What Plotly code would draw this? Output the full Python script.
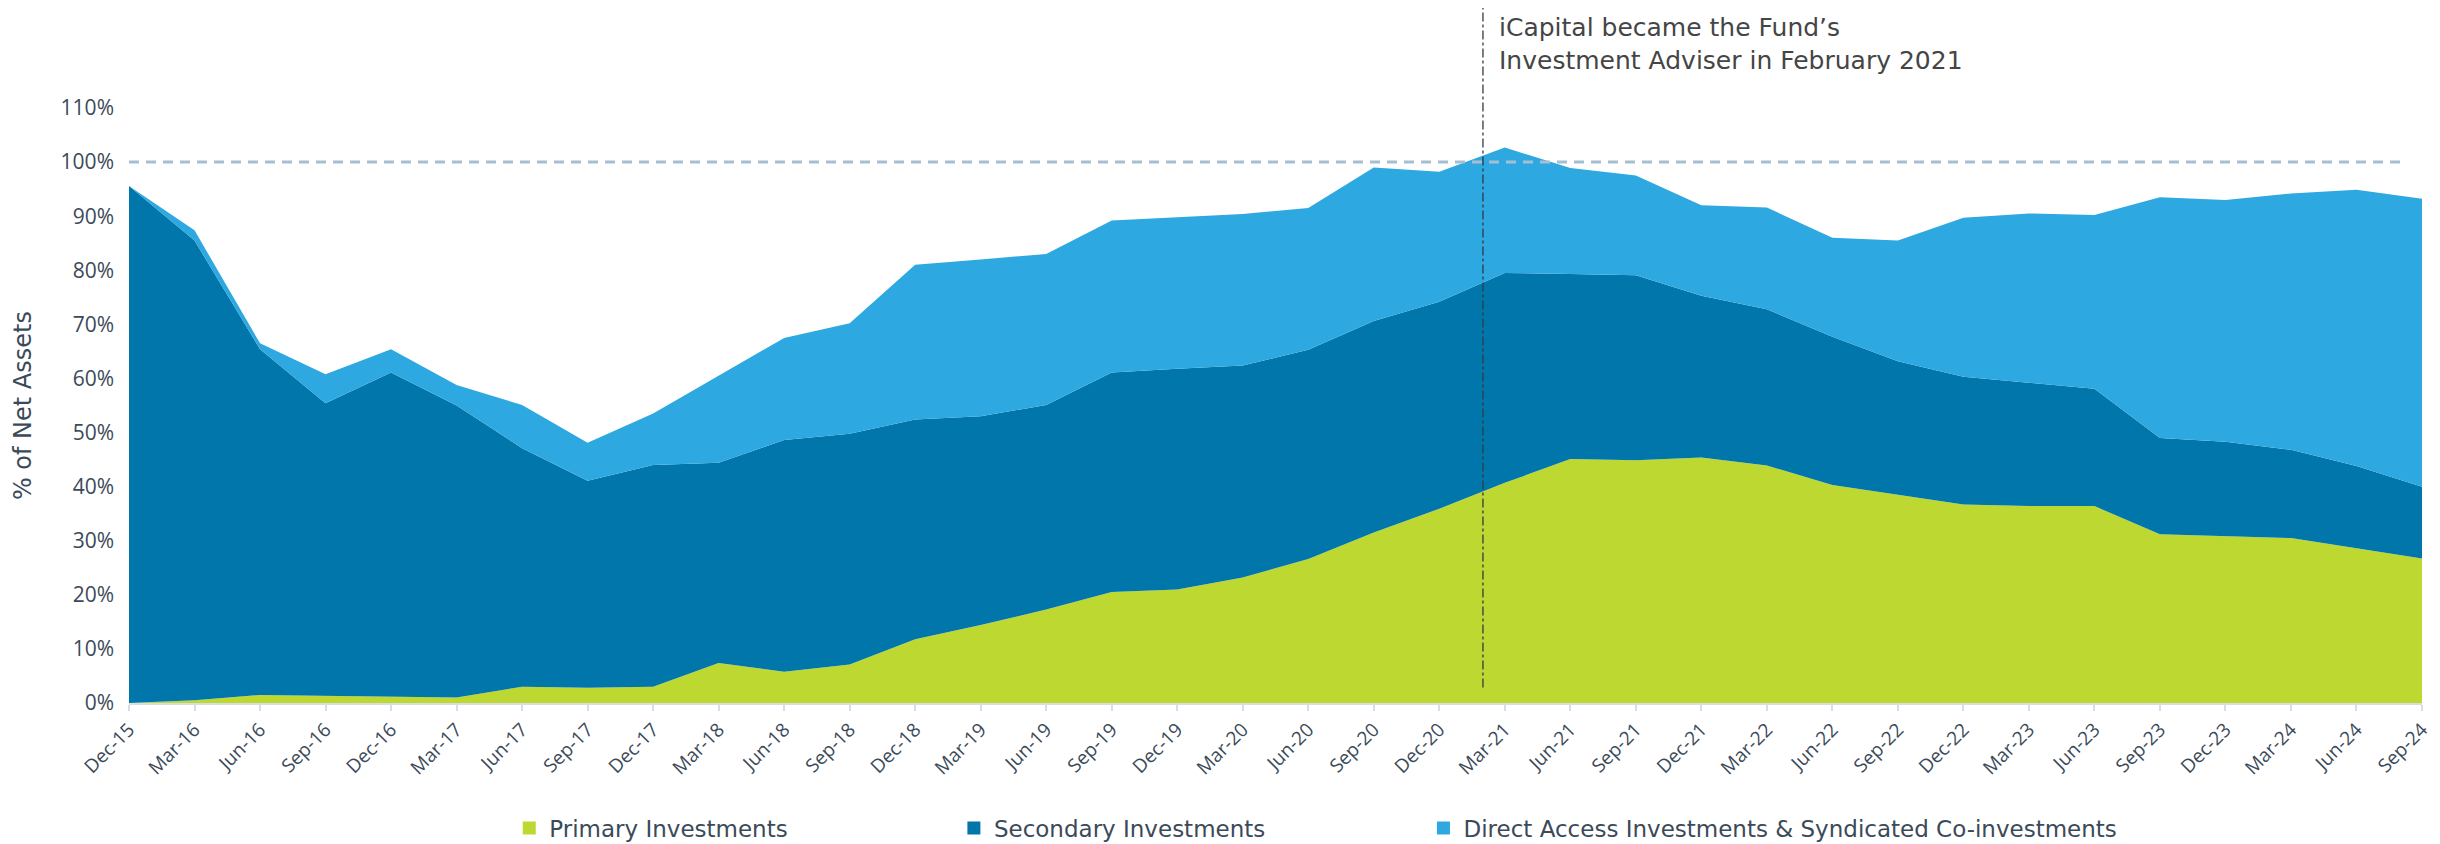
import plotly.graph_objects as go

quarters = ["Dec-15", "Mar-16", "Jun-16", "Sep-16", "Dec-16", "Mar-17", "Jun-17", "Sep-17",
            "Dec-17", "Mar-18", "Jun-18", "Sep-18", "Dec-18", "Mar-19", "Jun-19", "Sep-19",
            "Dec-19", "Mar-20", "Jun-20", "Sep-20", "Dec-20", "Mar-21", "Jun-21", "Sep-21",
            "Dec-21", "Mar-22", "Jun-22", "Sep-22", "Dec-22", "Mar-23", "Jun-23", "Sep-23",
            "Dec-23", "Mar-24", "Jun-24", "Sep-24"]

primary = [0.0, 0.5, 1.5, 1.3, 1.1, 1.0, 3.0, 2.8, 3.0, 7.4, 5.8, 7.1, 11.8, 14.4, 17.3, 20.5,
           21.0, 23.2, 26.6, 31.5, 35.9, 40.7, 45.1, 44.9, 45.4, 43.9, 40.3, 38.5, 36.7, 36.4,
           36.4, 31.2, 30.8, 30.5, 28.6, 26.7]
secondary = [95.6, 85.0, 63.9, 54.1, 60.0, 54.0, 44.1, 38.3, 41.0, 37.0, 42.8, 42.7, 40.6, 38.6,
             37.8, 40.6, 40.8, 39.2, 38.7, 39.1, 38.3, 38.8, 34.2, 34.2, 29.9, 28.9, 27.4, 24.7,
             23.6, 22.8, 21.7, 17.8, 17.5, 16.3, 15.2, 13.3]
direct = [0.0, 1.9, 1.1, 5.4, 4.3, 3.8, 8.0, 7.0, 9.5, 16.1, 18.9, 20.4, 28.6, 29.0, 27.9, 28.1,
          28.0, 28.0, 26.2, 28.4, 24.0, 23.2, 19.6, 18.4, 16.7, 18.8, 18.3, 22.3, 29.4, 31.3,
          32.1, 44.5, 44.7, 47.4, 51.1, 53.2]

series_names = ["Primary Investments", "Secondary Investments",
                "Direct Access Investments & Syndicated Co-investments"]
series_colors = ["#BED832", "#0176AA", "#2EA8E0"]
y_ticks = list(range(0, 111, 10))
y_tick_labels = [f"{v}%" for v in y_ticks]
reference_level = 100
adviser_note = "iCapital became the Fund\u2019s<br>Investment Adviser in February 2021"
adviser_pos = quarters.index("Dec-20") + 2 / 3  # February 2021

FONT = "DejaVu Sans"
TICKFONT = "Open Sans"
TXT = "#3B4A59"

fig = go.Figure()
for name, vals, col in zip(series_names, [primary, secondary, direct], series_colors):
    fig.add_trace(go.Scatter(
        x=quarters, y=vals, name=name, mode="lines", stackgroup="one",
        line=dict(width=0, color=col), fillcolor=col, showlegend=False,
        hovertemplate="%{x}: %{y:.1f}%<extra>" + name + "</extra>"))

legend_ids = ["legend", "legend2", "legend3"]
for name, col, lid in zip(series_names, series_colors, legend_ids):
    fig.add_trace(go.Scatter(
        x=[None], y=[None], mode="markers", name=name, legend=lid,
        marker=dict(symbol="square", size=13, color=col), showlegend=True))

# 100% reference line
fig.add_shape(type="line", xref="paper", yref="y", x0=0, x1=0.993,
              y0=reference_level, y1=reference_level, layer="above",
              line=dict(color="#A6BED2", width=3, dash="10px,7px"))
# adviser change line
fig.add_shape(type="line", xref="x", yref="paper", x0=adviser_pos, x1=adviser_pos,
              y0=0.026, y1=1.17, layer="above",
              line=dict(color="#2F3B45", width=1.3, dash="dashdot"))

fig.add_annotation(x=adviser_pos, y=1.163, xref="x", yref="paper", xanchor="left",
                   yanchor="top", xshift=14, showarrow=False, align="left",
                   text=adviser_note, font=dict(family=FONT, size=25, color="#454545"))

fig.add_annotation(x=-0.0464, y=0.5, xref="paper", yref="paper", textangle=-90,
                   xanchor="center", yanchor="middle",
                   showarrow=False, text="% of Net Assets",
                   font=dict(family=FONT, size=24, color=TXT))

legend_common = dict(orientation="h", yanchor="middle", y=-0.21, xanchor="left",
                     font=dict(family=FONT, size=23, color=TXT), bgcolor="rgba(0,0,0,0)",
                     itemwidth=30)

# page body has an 8px margin: figure sits at (8, 8) in the window
fig.update_layout(
    width=2432, height=836,
    margin=dict(l=121, r=18, t=100, b=141, autoexpand=False),
    paper_bgcolor="white", plot_bgcolor="white",
    font=dict(family=FONT, color=TXT),
    legend=dict(x=0.1667 - 2 / 2293, **legend_common),
    legend2=dict(x=0.358 + 4 / 2293, **legend_common),
    legend3=dict(x=0.5654 - 2 / 2293, **legend_common),
    xaxis=dict(type="category", range=[0, len(quarters) - 1], tickangle=-45,
               tickfont=dict(family=TICKFONT, size=19, color=TXT), automargin=False,
               showgrid=False, showline=True, linecolor="#D6DDE5", linewidth=2,
               ticks="outside", ticklen=6, tickwidth=2, tickcolor="#D6DDE5",
               zeroline=False),
    yaxis=dict(range=[0, 110], tickmode="array", tickvals=y_ticks, ticktext=y_tick_labels,
               tickfont=dict(family=TICKFONT, size=21, color=TXT), automargin=False,
               showgrid=False, zeroline=False, showline=False,
               ticklabelstandoff=14),
)

fig.write_html("out.html")
